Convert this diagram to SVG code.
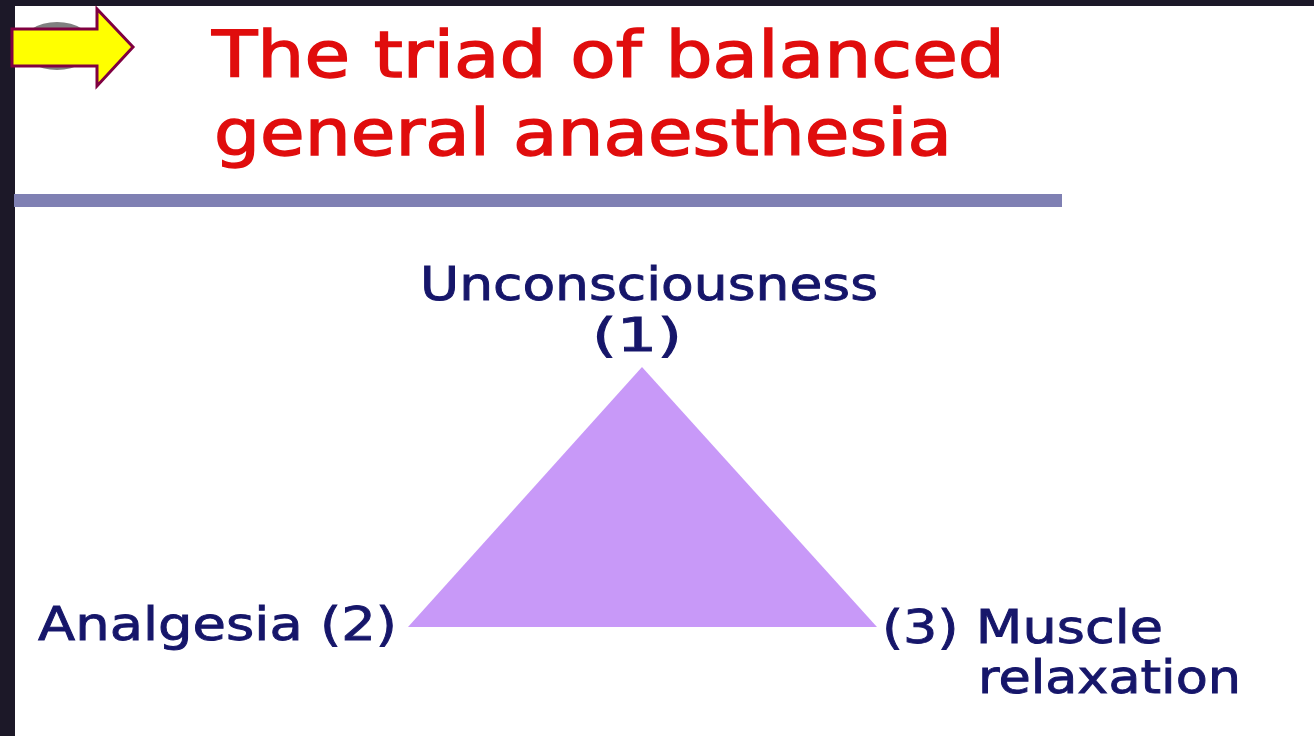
<svg xmlns="http://www.w3.org/2000/svg" width="1314" height="736" viewBox="0 0 1314 736">
<style>
.title{font-family:"DejaVu Sans","Verdana",sans-serif;font-size:64px;fill:#e00d0d;stroke:#e00d0d;stroke-width:1.4px}
.lbl{font-family:"DejaVu Sans","Verdana",sans-serif;font-size:47px;fill:#16166a;stroke:#16166a;stroke-width:0.9px}
</style>
<rect x="0" y="0" width="1314" height="736" fill="#ffffff"/>
<rect x="0" y="0" width="1314" height="6" fill="#1c1828"/>
<rect x="0" y="0" width="15" height="736" fill="#1c1828"/>
<g id="bullet">
<ellipse cx="57" cy="46" rx="36" ry="24" fill="#808080"/>
<polygon points="12,29 97,29 97,9 133,47 97,86 97,66 12,66" fill="#ffff00" stroke="#800040" stroke-width="3" stroke-linejoin="miter"/>
</g>
<g id="title">
<text class="title" x="212" y="77" textLength="793" lengthAdjust="spacingAndGlyphs">The triad of balanced</text>
<text class="title" x="214" y="155" textLength="738" lengthAdjust="spacingAndGlyphs">general anaesthesia</text>
</g>
<rect id="rule" x="14" y="194" width="1048" height="13" fill="#7f80b3"/>
<g id="triangle">
<polygon points="642,367 408,627 877,627" fill="#c899f8"/>
</g>
<g id="node1">
<text class="lbl" x="420" y="300" textLength="458" lengthAdjust="spacingAndGlyphs">Unconsciousness</text>
<text class="lbl" x="592" y="351" textLength="90" lengthAdjust="spacingAndGlyphs">(1)</text>
</g>
<g id="node2">
<text class="lbl" x="38" y="640" textLength="359" lengthAdjust="spacingAndGlyphs">Analgesia (2)</text>
</g>
<g id="node3">
<text class="lbl" x="882" y="643" textLength="281" lengthAdjust="spacingAndGlyphs">(3) Muscle</text>
<text class="lbl" x="978" y="693" textLength="263" lengthAdjust="spacingAndGlyphs">relaxation</text>
</g>
<g id="connectors"/>
</svg>
